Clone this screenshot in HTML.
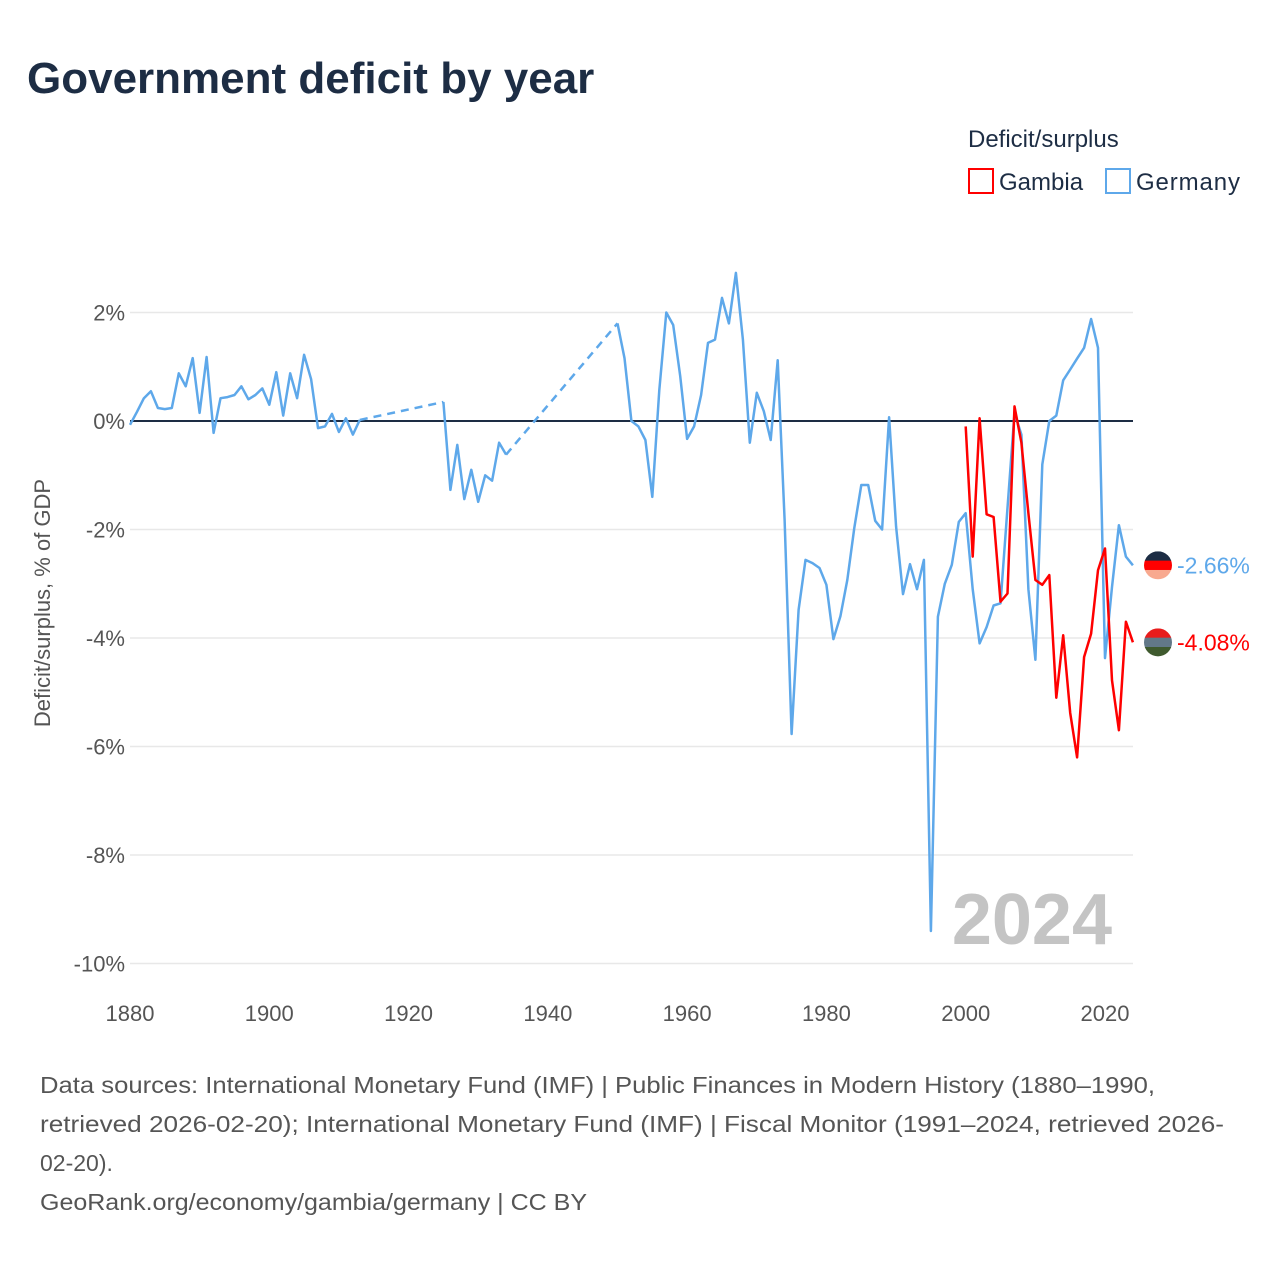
<!DOCTYPE html>
<html><head><meta charset="utf-8"><style>
body{margin:0;width:1280px;height:1280px;background:#fff;font-family:"Liberation Sans",sans-serif;overflow:hidden}
</style></head><body>
<svg width="1280" height="1280" style="position:absolute;left:0;top:0">
<text x="27" y="93" font-size="44" font-weight="bold" fill="#1d2d44">Government deficit by year</text>
<text x="968" y="147" font-size="24" fill="#1d2d44">Deficit/surplus</text>
<g><rect x="969" y="169" width="24" height="24" fill="none" stroke="#f00" stroke-width="2"/><text x="999" y="190" font-size="24" fill="#1d2d44">Gambia</text></g>
<g><rect x="1106" y="169" width="24" height="24" fill="none" stroke="#5ea8ea" stroke-width="2"/><text x="1136" y="190" font-size="24" fill="#1d2d44" textLength="104">Germany</text></g>
<g id="grid"></g><g id="xt"></g><g id="series"></g><g id="ends"></g>
<text x="1112" y="944" font-size="72" font-weight="bold" fill="#c4c4c4" text-anchor="end">2024</text>
<text transform="translate(50,603) rotate(-90)" font-size="22" fill="#555" text-anchor="middle">Deficit/surplus, % of GDP</text>
<g font-size="23" fill="#555">
<text x="40" y="1093" textLength="1115" lengthAdjust="spacingAndGlyphs">Data sources: International Monetary Fund (IMF) | Public Finances in Modern History (1880–1990,</text>
<text x="40" y="1132" textLength="1184" lengthAdjust="spacingAndGlyphs">retrieved 2026-02-20); International Monetary Fund (IMF) | Fiscal Monitor (1991–2024, retrieved 2026-</text>
<text x="40" y="1171">02-20).</text>
<text x="40" y="1210" textLength="547" lengthAdjust="spacingAndGlyphs">GeoRank.org/economy/gambia/germany | CC BY</text>
</g>
</svg>
<script>
const yTicks=[2,0,-2,-4,-6,-8,-10];
const xTicks=[1880,1900,1920,1940,1960,1980,2000,2020];
const deYears=[1880,1881,1882,1883,1884,1885,1886,1887,1888,1889,1890,1891,1892,1893,1894,1895,1896,1897,1898,1899,1900,1901,1902,1903,1904,1905,1906,1907,1908,1909,1910,1911,1912,1913,1925,1926,1927,1928,1929,1930,1931,1932,1933,1934,1950,1951,1952,1953,1954,1955,1956,1957,1958,1959,1960,1961,1962,1963,1964,1965,1966,1967,1968,1969,1970,1971,1972,1973,1974,1975,1976,1977,1978,1979,1980,1981,1982,1983,1984,1985,1986,1987,1988,1989,1990,1991,1992,1993,1994,1995,1996,1997,1998,1999,2000,2001,2002,2003,2004,2005,2006,2007,2008,2009,2010,2011,2012,2013,2014,2015,2016,2017,2018,2019,2020,2021,2022,2023,2024];
const deValues=[-0.07,0.17,0.42,0.55,0.24,0.22,0.24,0.88,0.64,1.16,0.15,1.18,-0.22,0.42,0.44,0.48,0.64,0.4,0.48,0.6,0.3,0.9,0.1,0.88,0.42,1.22,0.77,-0.13,-0.1,0.13,-0.2,0.05,-0.25,0.02,0.35,-1.27,-0.44,-1.44,-0.9,-1.49,-1.0,-1.1,-0.4,-0.62,1.8,1.16,0,-0.1,-0.35,-1.4,0.57,2.0,1.77,0.83,-0.33,-0.1,0.48,1.44,1.5,2.27,1.8,2.73,1.5,-0.4,0.52,0.18,-0.35,1.12,-1.82,-5.77,-3.48,-2.56,-2.62,-2.71,-3.02,-4.02,-3.6,-2.93,-1.97,-1.18,-1.18,-1.84,-2.0,0.07,-1.95,-3.19,-2.64,-3.1,-2.56,-9.4,-3.61,-3.0,-2.65,-1.86,-1.7,-3.1,-4.1,-3.8,-3.4,-3.36,-1.6,0.15,-0.25,-3.1,-4.4,-0.8,0.0,0.1,0.75,0.95,1.15,1.35,1.88,1.35,-4.37,-3.06,-1.92,-2.5,-2.66];
const gmYears=[2000,2001,2002,2003,2004,2005,2006,2007,2008,2009,2010,2011,2012,2013,2014,2015,2016,2017,2018,2019,2020,2021,2022,2023,2024];
const gmValues=[-0.1,-2.5,0.05,-1.72,-1.77,-3.33,-3.18,0.27,-0.4,-1.7,-2.93,-3.02,-2.84,-5.1,-3.95,-5.38,-6.2,-4.35,-3.92,-2.75,-2.35,-4.78,-5.7,-3.7,-4.08];
const NS='http://www.w3.org/2000/svg';
const X=y=>130+(y-1880)*(975/140);
const Y=v=>421-v*54.25;
function mk(t,a,p){const e=document.createElementNS(NS,t);for(const k in a)e.setAttribute(k,a[k]);p.appendChild(e);return e;}
const grid=document.getElementById('grid');
yTicks.forEach(t=>{
 const l=mk('line',{x1:130,x2:1133,y1:Y(t),y2:Y(t),stroke:t===0?'#1d2d44':'#e8e8e8','stroke-width':t===0?2:1.5},grid);
 
 
 const tx=mk('text',{x:125,y:Y(t)+8,'font-size':22,fill:'#555','text-anchor':'end'},grid);
 tx.textContent=t+'%';
 
 
});
const xt=document.getElementById('xt');
xTicks.forEach(t=>{
 const tx=mk('text',{x:X(t),y:1021,'font-size':22,fill:'#555','text-anchor':'middle'},xt);
 tx.textContent=t;
 
 
});
const ser=document.getElementById('series');
function draw(ys,vs,color,name){
 let d='';
 for(let i=0;i<ys.length;i++){
  const p=X(ys[i]).toFixed(1)+','+Y(vs[i]).toFixed(1);
  if(i>0&&ys[i]-ys[i-1]>1){
   const g=mk('line',{x1:X(ys[i-1]),y1:Y(vs[i-1]),x2:X(ys[i]),y2:Y(vs[i]),stroke:color,'stroke-width':2.5,'stroke-dasharray':'8 6'},ser);
   
   
   d+=' M'+p;
  } else d+=(i?' L':'M')+p;
 }
 const pa=mk('path',{d:d,fill:'none',stroke:color,'stroke-width':2.5,'stroke-linejoin':'round'},ser);
 
 
}
draw(deYears,deValues,'#5ea8ea','germany');
draw(gmYears,gmValues,'#f00','gambia');
const ends=document.getElementById('ends');
function endLabel(v,color,cols,name){
 const cy=Y(v),cx=1158,r=14;
 const g=mk('g',{},ends);
 
 
 mk('clipPath',{id:'c'+name},g);
 mk('circle',{cx:cx,cy:cy,r:r},g.lastChild);
 const h=2*r/cols.length;
 cols.forEach((c,i)=>mk('rect',{x:cx-r,y:cy-r+i*h,width:2*r,height:h+0.5,fill:c,'clip-path':'url(#c'+name+')'},g));
 const t=mk('text',{x:1177,y:cy+8,'font-size':23,fill:color},ends);
 t.textContent=v.toFixed(2)+'%';
 
 
}
endLabel(deValues[deValues.length-1],'#5ea8ea',['#1d2d44','#f00','#f8a98f'],'germany');
endLabel(gmValues[gmValues.length-1],'#f00',['#e81c1c','#627888','#3f5a2e'],'gambia');
</script>
</body></html>
